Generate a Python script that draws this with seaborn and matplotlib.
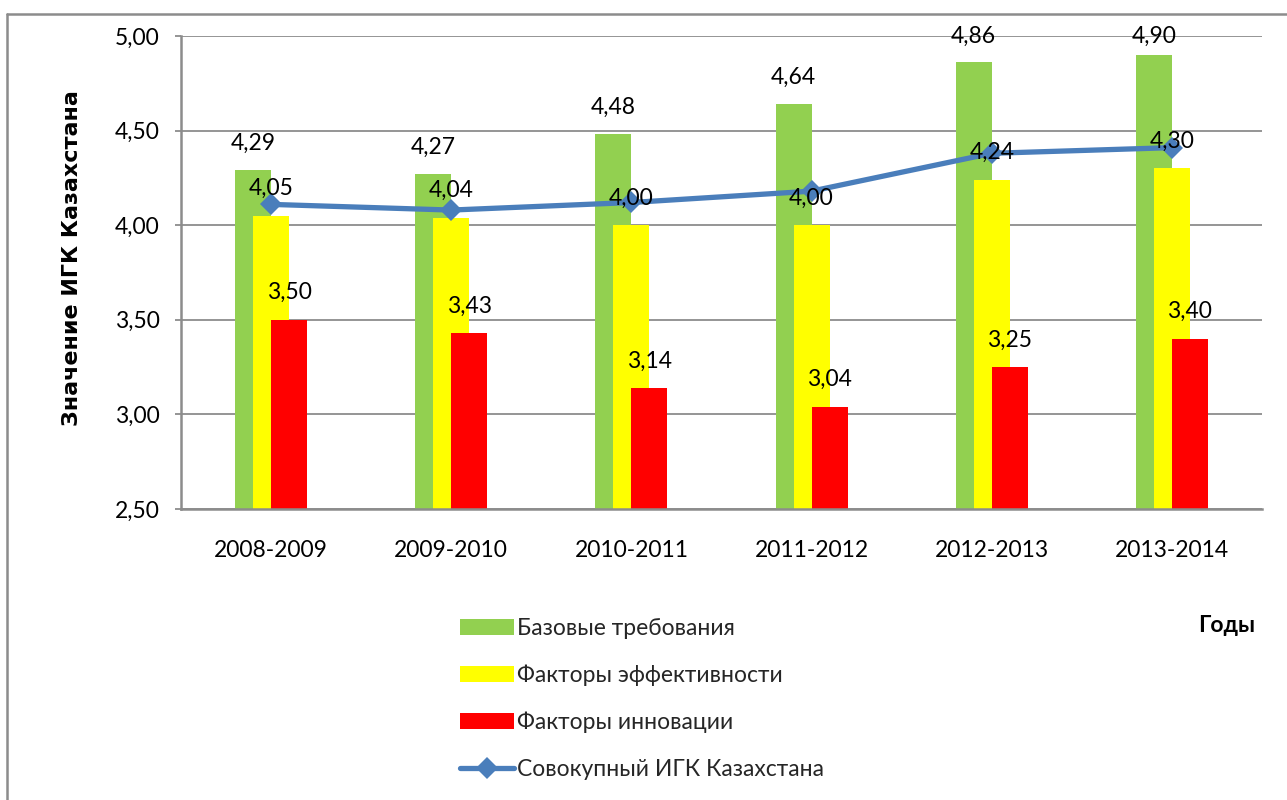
import numpy as np
import pandas as pd
import matplotlib
matplotlib.use("Agg")
import matplotlib.pyplot as plt
import seaborn as sns
from matplotlib.lines import Line2D
from matplotlib.patches import Patch
from matplotlib.ticker import FuncFormatter, MultipleLocator

periods = ["2008-2009", "2009-2010", "2010-2011", "2011-2012", "2012-2013", "2013-2014"]
basic = [4.29, 4.27, 4.48, 4.64, 4.86, 4.90]
efficiency = [4.05, 4.04, 4.00, 4.00, 4.24, 4.30]
innovation = [3.50, 3.43, 3.14, 3.04, 3.25, 3.40]
total = [4.11, 4.08, 4.12, 4.18, 4.38, 4.41]

series_names = ["Базовые требования", "Факторы эффективности", "Факторы инновации"]
line_name = "Совокупный ИГК Казахстана"
y_label = "Значение ИГК Казахстана"
x_label = "Годы"

bar_colors = ["#92D050", "#FFFF00", "#FF0000"]
line_color = "#4A7EBB"
grid_color = "#8C8C8C"

sns.set_theme(style="white")
plt.rcParams["font.family"] = ["Lato", "DejaVu Sans"]
FS = 16.5

W, H = 1287, 800
fig = plt.figure(figsize=(W / 100, H / 100), dpi=100)
ax = fig.add_axes([181 / W, 1 - 509 / H, (1262 - 181) / W, (509 - 36) / H])

df = pd.DataFrame({
    "period": periods * 3,
    "value": basic + efficiency + innovation,
    "series": np.repeat(series_names, len(periods)),
})

sns.barplot(data=df, x="period", y="value", hue="series", hue_order=series_names,
            palette=bar_colors, width=0.6, dodge=True, saturation=1, errorbar=None,
            legend=False, linewidth=0, ax=ax, zorder=2)

# bars overlap: pull outer series towards the centre
shifts = [0.1, 0.0, -0.1]
for cont, dx in zip(ax.containers, shifts):
    for bar in cont:
        bar.set_x(bar.get_x() + dx)

sns.lineplot(x=np.arange(len(periods)), y=total, color=line_color, linewidth=3.8,
             marker="D", markersize=11, markeredgewidth=0, ax=ax, zorder=4)

ymin, ymax = 2.5, 5.0
px_per_unit = (509 - 36) / (ymax - ymin)
label_off = 27 / px_per_unit

def fmt(v):
    return f"{v:.2f}".replace(".", ",")

# data labels sit above the bar, but stay inside the plot area
for cont in ax.containers:
    for bar in cont:
        h = bar.get_height()
        ax.text(bar.get_x() + bar.get_width() / 2, min(h + label_off, ymax), fmt(h),
                ha="center", va="center", fontsize=FS, color="black", zorder=6)

ax.set_xlim(-0.5, len(periods) - 0.5)
ax.set_ylim(ymin, ymax)
ax.yaxis.set_major_locator(MultipleLocator(0.5))
ax.yaxis.set_major_formatter(FuncFormatter(lambda v, p: fmt(v)))
ax.set_xticks(range(len(periods)))
ax.set_xticklabels(periods)

ax.grid(axis="y", color=grid_color, linewidth=1.3, zorder=0)
ax.set_axisbelow(True)
for side in ["top", "right"]:
    ax.spines[side].set_visible(False)
for side in ["left", "bottom"]:
    ax.spines[side].set_color(grid_color)
    ax.spines[side].set_linewidth(1.8)

ax.tick_params(axis="y", which="major", left=True, length=4.5, width=1.3,
               color=grid_color, pad=11, labelsize=FS, labelcolor="black")
ax.tick_params(axis="x", length=0, pad=22, labelsize=FS, labelcolor="black")

ax.set_xlabel("")
ax.set_ylabel(y_label, fontsize=FS - 0.5, fontweight="bold",
              family=["Liberation Sans Narrow", "DejaVu Sans"], color="black")
ax.yaxis.set_label_coords((82 - 181) / (1262 - 181), (509 - 258) / (509 - 36))

fig.text(1227 / W, 1 - 626 / H, x_label, fontsize=FS, fontweight="bold",
         ha="center", va="center", color="black")

handles = [Patch(facecolor=c, edgecolor="none") for c in bar_colors]
handles.append(Line2D([], [], color=line_color, linewidth=3.8, marker="D",
                      markersize=11, markeredgewidth=0))
fig.legend(handles, series_names + [line_name], loc="upper left",
           bbox_to_anchor=(460 / W, 1 - 618 / H), frameon=False, fontsize=FS,
           handlelength=2.35, handleheight=0.7, handletextpad=0.12,
           labelspacing=1.12, borderpad=0, borderaxespad=0)

# chart frame (left and top edges visible in the original)
fig.add_artist(Line2D([7 / W, 7 / W], [0, 1 - 14 / H], transform=fig.transFigure,
                      color=grid_color, linewidth=1.8))
fig.add_artist(Line2D([7 / W, 1], [1 - 14 / H, 1 - 14 / H], transform=fig.transFigure,
                      color=grid_color, linewidth=1.8))

fig.savefig("out.png", dpi=100, facecolor="white")
